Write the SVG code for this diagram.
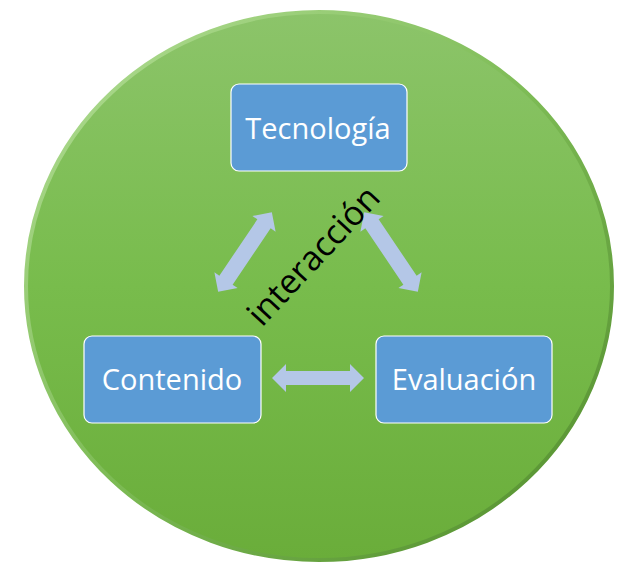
<svg xmlns="http://www.w3.org/2000/svg" width="638" height="571" viewBox="0 0 638 571">
<defs>
<linearGradient id="bg" x1="0" y1="0" x2="0" y2="1">
<stop offset="0" stop-color="#8cc46a"/>
<stop offset="0.5" stop-color="#78bc4c"/>
<stop offset="1" stop-color="#6aad3a"/>
</linearGradient>
<linearGradient id="rim" x1="0" y1="0" x2="1" y2="1">
<stop offset="0" stop-color="#b6e09a"/>
<stop offset="0.5" stop-color="#7dbb55"/>
<stop offset="1" stop-color="#4f8a2a"/>
</linearGradient>
<style>
.box{fill:#5b9bd5;stroke:#ffffff;stroke-width:1.2}
.lbl{font-family:"Open Sans","Liberation Sans",sans-serif;font-size:29px;fill:#ffffff;text-anchor:middle}
.arr{fill:#b4c7e7}
</style>
</defs>
<ellipse cx="319" cy="286" rx="293" ry="274" fill="url(#bg)" stroke="url(#rim)" stroke-width="4"/>
<g id="connectors">
<polygon class="arr" transform="translate(245,252) rotate(-56)" points="-48,0 -34,-14 -34,-8 34,-8 34,-14 48,0 34,14 34,8 -34,8 -34,14"/>
<polygon class="arr" transform="translate(391,252) rotate(56)" points="-48,0 -34,-14 -34,-8 34,-8 34,-14 48,0 34,14 34,8 -34,8 -34,14"/>
<polygon class="arr" points="272,378 286,364 286,371 350,371 350,364 364,378 350,392 350,385 286,385 286,392"/>
</g>
<g id="tecnologia">
<rect class="box" x="231" y="84" width="176" height="87" rx="8"/>
<text class="lbl" x="318" y="139">Tecnología</text>
</g>
<g id="contenido">
<rect class="box" x="84" y="336" width="177" height="87" rx="8"/>
<text class="lbl" x="172" y="390">Contenido</text>
</g>
<g id="evaluacion">
<rect class="box" x="376" y="336" width="176" height="87" rx="8"/>
<text class="lbl" x="464" y="390">Evaluación</text>
</g>
<g id="interaccion">
<text x="0" y="0" transform="translate(262,328) rotate(-47)" font-family="Open Sans, Liberation Sans, sans-serif" font-size="34" fill="#000000">interacción</text>
</g>
</svg>
